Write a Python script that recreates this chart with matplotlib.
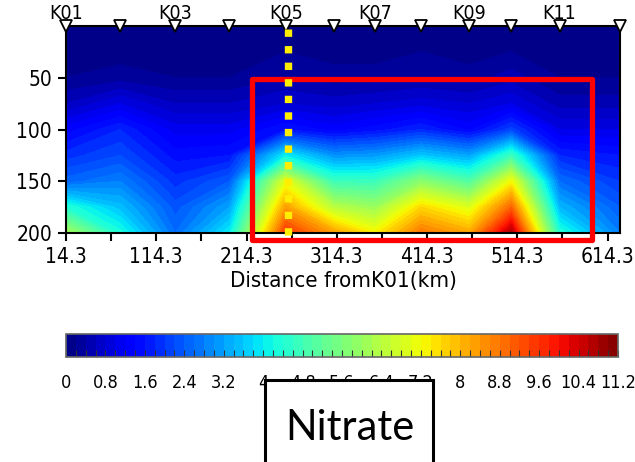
import numpy as np
import matplotlib.pyplot as plt
from matplotlib.patches import Rectangle

# ===================== Datos =====================
stations = ["K01", "K02", "K03", "K04", "K05", "K06", "K07", "K08", "K09", "K10", "K11", "K12"]
dist_km = [14.3, 74.3, 135.4, 195.4, 257.6, 311.0, 356.5, 407.6, 461.0, 507.6, 561.0, 628.0]
depth_m = [0, 25, 50, 75, 100, 125, 150, 175, 200]

# nitrato por estación (filas = profundidad)
no3_k01 = [0.1, 0.1, 0.2, 0.6, 1.3, 1.9, 2.5, 4.4, 6.2]
no3_k02 = [0.1, 0.1, 0.3, 1.0, 1.8, 2.2, 2.8, 3.5, 4.3]
no3_k03 = [0.1, 0.1, 0.2, 0.6, 1.1, 1.5, 1.9, 2.3, 2.6]
no3_k04 = [0.1, 0.1, 0.2, 0.6, 1.1, 1.6, 2.4, 3.2, 4.0]
no3_k05 = [0.1, 0.2, 0.4, 0.8, 1.6, 4.0, 7.0, 8.3, 9.6]
no3_k06 = [0.1, 0.1, 0.3, 0.7, 1.3, 3.0, 4.7, 6.4, 8.3]
no3_k07 = [0.1, 0.1, 0.3, 0.8, 1.5, 3.1, 4.7, 6.0, 7.3]
no3_k08 = [0.1, 0.2, 0.4, 0.9, 1.8, 3.6, 5.8, 7.6, 8.8]
no3_k09 = [0.1, 0.1, 0.3, 0.8, 1.35, 3.2, 5.0, 6.9, 8.2]
no3_k10 = [0.1, 0.2, 0.5, 1.0, 2.1, 4.7, 7.2, 9.0, 10.8]
no3_k11 = [0.1, 0.1, 0.2, 0.5, 1.0, 1.8, 2.6, 3.4, 4.4]
no3_k12 = [0.1, 0.1, 0.2, 0.5, 1.0, 1.6, 2.0, 2.4, 2.8]

xtick_labels = ["14.3", "114.3", "214.3", "314.3", "414.3", "514.3", "614.3"]
cbar_labels = ["0", "0.8", "1.6", "2.4", "3.2", "4", "4.8", "5.6", "6.4",
               "7.2", "8", "8.8", "9.6", "10.4", "11.2"]

Z = np.column_stack([no3_k01, no3_k02, no3_k03, no3_k04, no3_k05, no3_k06,
                     no3_k07, no3_k08, no3_k09, no3_k10, no3_k11, no3_k12])

narrow = dict(family="DejaVu Sans", stretch="condensed")

# ===================== Figura =====================
fig = plt.figure(figsize=(6.35, 4.62), dpi=100)
ax = fig.add_axes([66/635, 1-233/462, 554/635, 207/462])

levels = np.arange(0, 11.2 + 0.1, 0.2)
cf = ax.contourf(dist_km, depth_m, Z, levels=levels, cmap="jet")

ax.set_xlim(14.3, 628)
ax.set_ylim(200, 0)
for s in ax.spines.values():
    s.set_linewidth(1.5)

xt = [14.3 + 50 * i for i in range(13)]
ax.set_xticks(xt)
ax.set_xticklabels([xtick_labels[i // 2] if i % 2 == 0 else "" for i in range(13)],
                   fontsize=15, **narrow)
ax.set_yticks([50, 100, 150, 200])
ax.set_yticklabels(["50", "100", "150", "200"], fontsize=15, **narrow)
ax.tick_params(length=6, width=1.5, pad=4)
ax.set_xlabel("Distance fromK01(km)", fontsize=16, labelpad=3, **narrow)

# estaciones arriba
ax.plot(dist_km, [0] * len(dist_km), linestyle="none", marker="v", ms=9,
        mfc="white", mec="black", mew=1.3, clip_on=False, zorder=5)
for i, (name, d) in enumerate(zip(stations, dist_km)):
    if i % 2 == 0:
        ax.text(d, -3, name, ha="center", va="bottom", fontsize=14, **narrow)

# recuadro rojo y línea amarilla
ax.add_patch(Rectangle((220.5, 51.5), 377, 155.5, fill=False, ec="red", lw=3.8,
                       joinstyle="round", clip_on=False, zorder=6))
ax.plot([260.4, 260.4], [3, 209], color="#ffee00", lw=5.3, linestyle=(0, (1, 1.25)),
        dash_capstyle="butt", clip_on=False, zorder=7)

# ===================== Barra de color =====================
cax = fig.add_axes([66/635, 1-357/462, 552/635, 23/462])
cb = fig.colorbar(cf, cax=cax, orientation="horizontal")
cb.set_ticks(np.arange(0, 11.2 + 0.01, 0.8))
cb.set_ticklabels(cbar_labels)
cax.set_xticks(levels, minor=True)
cax.tick_params(which="both", direction="in", length=5, width=0.8, color="#333333",
                bottom=True, top=False, pad=12)
for lab in cax.get_xticklabels():
    lab.set_family("DejaVu Sans")
    lab.set_stretch("condensed")
    lab.set_fontsize(13)
cb.outline.set_edgecolor("#666666")
cb.outline.set_linewidth(1.2)

# ===================== Etiqueta Nitrate =====================
fig.patches.append(Rectangle((265/635, -0.05), 168/635, (462-380)/462 + 0.05,
                             transform=fig.transFigure, fc="white", ec="black",
                             lw=2.2, zorder=10))
fig.text(350/635, 1-428/462, "Nitrate", ha="center", va="center",
         family=["Lato", "DejaVu Sans"], fontsize=30, zorder=11)

fig.savefig("out.png", dpi=100)
